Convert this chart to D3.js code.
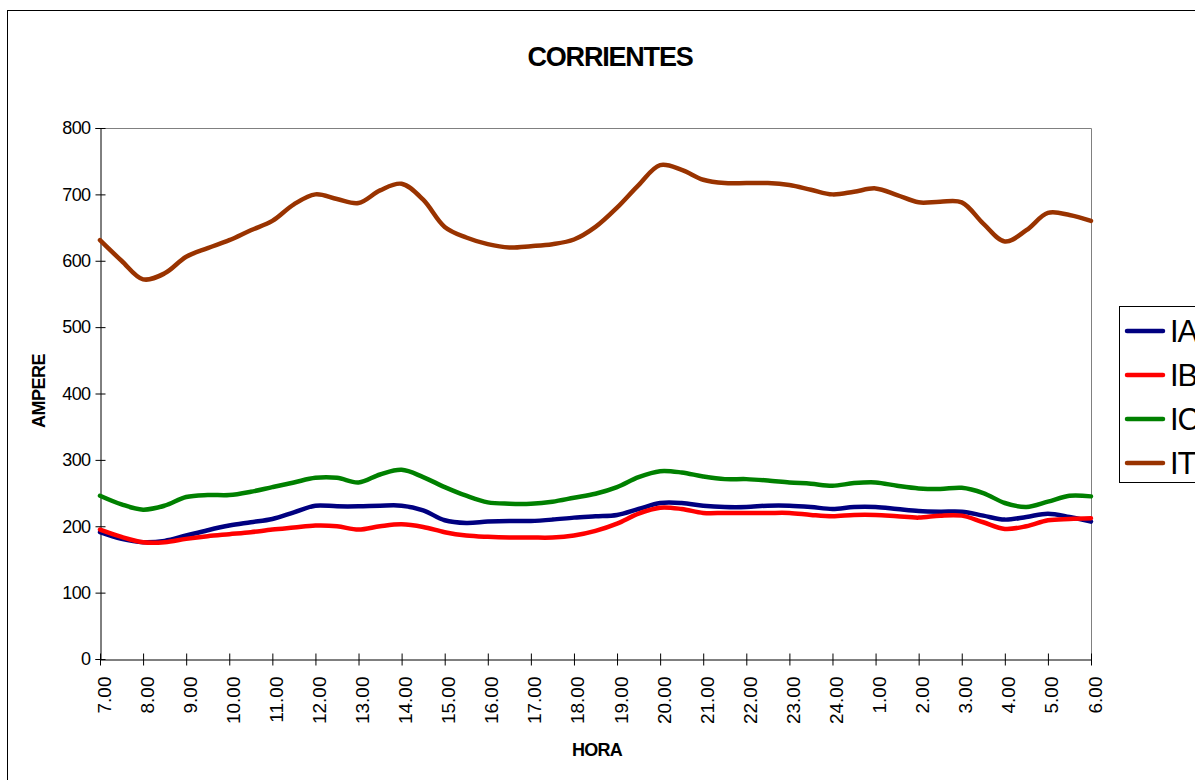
<!DOCTYPE html>
<html>
<head>
<meta charset="utf-8">
<script src="https://cdn.jsdelivr.net/npm/d3@7"></script>
<style>
  body { margin: 0; background: #fff; }
  svg { display: block; font-family: Arial, "Liberation Sans", sans-serif; }
</style>
</head>
<body>
<div id="chart"></div>
<script>
// hour labels shown on the axis, one data point every half hour
var hourLabels = ["7.00", "8.00", "9.00", "10.00", "11.00", "12.00", "13.00", "14.00", "15.00",
    "16.00", "17.00", "18.00", "19.00", "20.00", "21.00", "22.00", "23.00", "24.00",
    "1.00", "2.00", "3.00", "4.00", "5.00", "6.00"];

var yTicks = [0, 100, 200, 300, 400, 500, 600, 700, 800];

var seriesNames = ["IA", "IB", "IC", "IT"];

var valuesIA = [191, 181, 176, 178, 186, 194, 201, 206, 211, 221, 231, 230, 230, 231, 231, 224,
    209, 205, 207, 208, 208, 210, 213, 215, 217, 226, 235, 235, 231, 229, 229, 231,
    231, 229, 226, 229, 229, 226, 223, 222, 222, 216, 210, 214, 219, 214, 207];

var valuesIB = [195, 184, 176, 176, 181, 185, 188, 191, 195, 198, 201, 200, 195, 200, 203, 199,
    191, 186, 184, 183, 183, 183, 186, 193, 204, 219, 228, 226, 220, 220, 220, 220,
    220, 217, 215, 217, 217, 215, 213, 216, 216, 206, 196, 200, 209, 211, 212];

var valuesIC = [246, 233, 225, 231, 244, 247, 247, 252, 259, 266, 273, 273, 266, 278, 285, 274,
    259, 246, 236, 234, 234, 237, 243, 249, 259, 274, 283, 281, 275, 271, 271, 269,
    266, 264, 261, 265, 266, 261, 257, 256, 258, 250, 235, 229, 237, 246, 245];

var valuesIT = [631, 600, 572, 581, 606, 619, 631, 646, 660, 685, 700, 693, 687, 706, 716, 692,
    651, 635, 625, 620, 622, 625, 632, 651, 680, 714, 744, 737, 722, 717, 717, 717,
    714, 707, 700, 704, 709, 699, 688, 689, 688, 656, 629, 646, 672, 669, 660];

var colors = { IA: "#000080", IB: "#ff0000", IC: "#008000", IT: "#993300" };

// half hour slots built from the hour labels
var slots = [];
hourLabels.forEach(function(h, i) {
    slots.push(h);
    if (i < hourLabels.length - 1) slots.push(h + "+30");
});

var series = [
    { name: "IA", values: valuesIA },
    { name: "IB", values: valuesIB },
    { name: "IC", values: valuesIC },
    { name: "IT", values: valuesIT }
];

var W = 1195, H = 780;
var plot = { left: 100, top: 128, right: 1091, bottom: 659 };

var svg = d3.select("#chart").append("svg")
    .attr("width", W)
    .attr("height", H);

// chart frame
svg.append("rect")
    .attr("x", 7.5).attr("y", 10.5)
    .attr("width", 1300).attr("height", 900)
    .attr("fill", "#fff")
    .attr("stroke", "#000")
    .attr("stroke-width", 1);

var x = d3.scalePoint()
    .domain(slots)
    .range([plot.left, plot.right]);

var y = d3.scaleLinear()
    .domain([0, 800])
    .range([plot.bottom, plot.top]);

// plot area border (gray top/right)
svg.append("path")
    .attr("d", "M" + plot.left + "," + (plot.top + 0.5) + "H" + (plot.right + 0.5) + "V" + plot.bottom)
    .attr("fill", "none")
    .attr("stroke", "#808080")
    .attr("stroke-width", 1);

// y axis
var yAxis = svg.append("g")
    .attr("transform", "translate(" + (plot.left + 0.5) + ",0)")
    .call(d3.axisLeft(y).tickValues(yTicks).tickSize(5).tickPadding(5));
yAxis.select(".domain").attr("stroke", "#000");
yAxis.selectAll(".tick line").attr("x2", 5).attr("x1", -5).attr("stroke", "#000");
yAxis.selectAll(".tick text")
    .attr("font-size", 18)
    .attr("fill", "#000")
    .attr("letter-spacing", -0.6)
    .attr("font-family", "Arial, 'Liberation Sans', sans-serif");

// x axis
var xAxis = svg.append("g")
    .attr("transform", "translate(0," + (plot.bottom + 0.5) + ")")
    .call(d3.axisBottom(x).tickValues(hourLabels).tickSize(6).tickSizeOuter(0));
xAxis.select(".domain").attr("stroke", "#000");
xAxis.selectAll(".tick line").attr("y1", -6).attr("y2", 6).attr("stroke", "#000");
xAxis.selectAll(".tick text")
    .attr("font-size", 19)
    .attr("fill", "#000")
    .attr("font-family", "Arial, 'Liberation Sans', sans-serif")
    .attr("text-anchor", "end")
    .attr("transform", "translate(10,17) rotate(-90)")
    .attr("x", 0).attr("y", 0).attr("dy", 0);

// lines
var line = d3.line()
    .x(function(d, i) { return x(slots[i]); })
    .y(function(d) { return y(d); })
    .curve(d3.curveCatmullRom.alpha(0.5));

svg.append("g").selectAll("path")
    .data(series)
    .enter().append("path")
    .attr("d", function(d) { return line(d.values); })
    .attr("fill", "none")
    .attr("stroke", function(d) { return colors[d.name]; })
    .attr("stroke-width", 4.5)
    .attr("stroke-linejoin", "round")
    .attr("stroke-linecap", "round");

// title & axis titles
svg.append("text")
    .attr("x", 610).attr("y", 66)
    .attr("text-anchor", "middle")
    .attr("font-size", 27)
    .attr("font-weight", "bold")
    .attr("letter-spacing", -1.2)
    .text("CORRIENTES");

svg.append("text")
    .attr("x", 597).attr("y", 756)
    .attr("text-anchor", "middle")
    .attr("font-size", 18)
    .attr("font-weight", "bold")
    .attr("letter-spacing", -0.8)
    .text("HORA");

svg.append("text")
    .attr("transform", "translate(45,391) rotate(-90)")
    .attr("text-anchor", "middle")
    .attr("font-size", 18)
    .attr("font-weight", "bold")
    .attr("letter-spacing", -0.5)
    .text("AMPERE");

// legend (cut off at the right edge like the original)
var legend = svg.append("g");
legend.append("rect")
    .attr("x", 1119.5).attr("y", 306.5)
    .attr("width", 200).attr("height", 176)
    .attr("fill", "#fff")
    .attr("stroke", "#000")
    .attr("stroke-width", 1);

var item = legend.selectAll(".item")
    .data(seriesNames)
    .enter().append("g")
    .attr("transform", function(d, i) { return "translate(0," + (331 + i * 44) + ")"; });

item.append("line")
    .attr("x1", 1127).attr("x2", 1163)
    .attr("stroke", function(d) { return colors[d]; })
    .attr("stroke-width", 4.5)
    .attr("stroke-linecap", "round");

item.append("text")
    .attr("x", 1170).attr("y", 11)
    .attr("font-size", 31)
    .attr("letter-spacing", -1)
    .text(function(d) { return d; });
</script>
</body>
</html>
